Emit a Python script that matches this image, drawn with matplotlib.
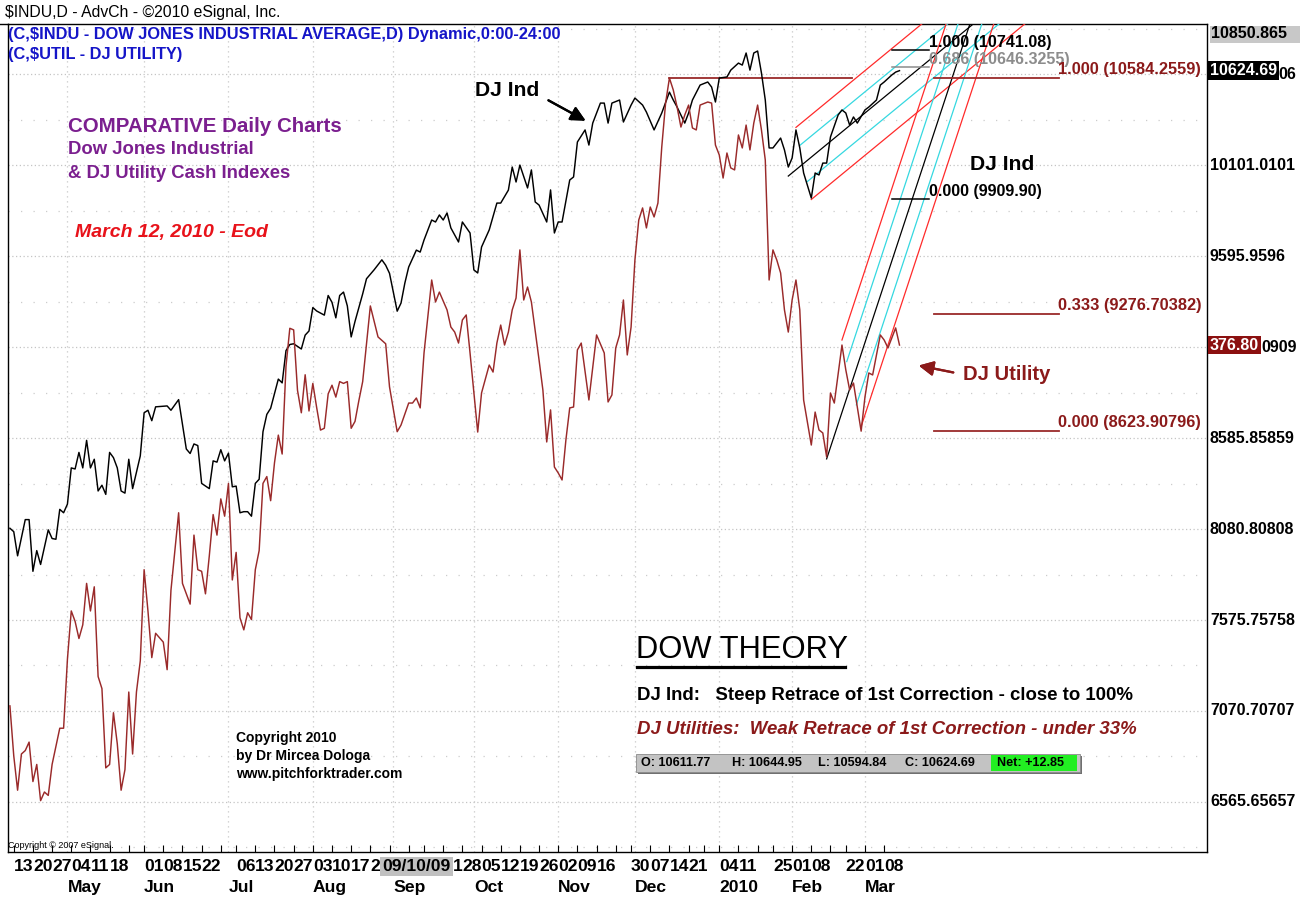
import matplotlib
matplotlib.use("Agg")
import matplotlib.pyplot as plt
from matplotlib import font_manager
from matplotlib.lines import Line2D
from matplotlib.patches import Rectangle
from matplotlib.transforms import blended_transform_factory

W, H = 1313, 897

# x = trading day counted from Apr 9 2009 (day 0) to Mar 12 2010 (day 232)
dji_day = [0, 1, 2, 4, 5, 6, 7, 8, 10, 11, 12, 13, 14, 15, 16, 17, 18, 19, 20, 21,
           22, 23, 24, 25, 26, 27, 28, 29, 30, 31, 32, 34, 35, 36, 37, 38, 41, 42, 44, 46,
           47, 48, 49, 50, 52, 53, 54, 55, 56, 57, 58, 59, 60, 61, 62, 63, 64, 65, 66, 67,
           68, 69, 70, 71, 72, 73, 74, 76, 77, 78, 79, 80, 82, 83, 84, 85, 86, 87, 88, 89,
           90, 91, 92, 93, 95, 97, 98, 99, 101, 102, 103, 104, 106, 107, 108, 110, 111, 112, 113, 114,
           115, 117, 118, 120, 121, 122, 123, 125, 127, 128, 130, 131, 132, 133, 135, 136, 137, 138, 140, 141,
           142, 143, 144, 146, 147, 148, 150, 151, 152, 154, 155, 156, 157, 159, 160, 162, 163, 165, 166, 168,
           170, 172, 173, 174, 176, 177, 178, 180, 182, 183, 184, 185, 187, 188, 190, 191, 192, 193, 194, 195,
           196, 197, 198, 199, 201, 202, 203, 204, 205, 206, 207, 209, 210, 211, 212, 213, 214, 216, 217, 218,
           219, 220, 221, 223, 224, 226, 227, 228, 230, 231, 232]
dji_close = [8085, 8066, 7932, 8133, 8133, 7846, 7961, 7884, 8076, 8028, 8024, 8190, 8171, 8219, 8420, 8414, 8506, 8420, 8573, 8420,
             8468, 8292, 8324, 8273, 8506, 8477, 8420, 8292, 8280, 8468, 8305, 8487, 8726, 8740, 8682, 8759, 8764, 8740, 8799, 8525,
             8500, 8553, 8544, 8334, 8305, 8459, 8452, 8521, 8459, 8502, 8315, 8319, 8171, 8177, 8177, 8152, 8334, 8357, 8621, 8717,
             8751, 8831, 8913, 8892, 9071, 9105, 9109, 9080, 9157, 9180, 9310, 9291, 9268, 9377, 9339, 9253, 9377, 9396, 9319, 9147,
             9233, 9310, 9386, 9470, 9520, 9575, 9545, 9500, 9290, 9335, 9446, 9535, 9629, 9618, 9685, 9796, 9785, 9824, 9796, 9835,
             9752, 9674, 9785, 9724, 9519, 9502, 9646, 9741, 9890, 9890, 9962, 10090, 10007, 10101, 9974, 10074, 9896, 9879, 9785, 9963,
             9724, 9785, 9785, 10018, 10035, 10229, 10296, 10212, 10334, 10445, 10445, 10334, 10445, 10462, 10340, 10434, 10473, 10434, 10395, 10296,
             10390, 10506, 10462, 10423, 10334, 10390, 10462, 10545, 10562, 10534, 10451, 10584, 10590, 10628, 10667, 10656, 10723, 10628, 10723, 10734,
             10612, 10462, 10196, 10196, 10251, 10185, 10090, 10140, 10296, 10196, 10057, 9918, 10057, 10046, 10112, 10112, 10257, 10379, 10407, 10390,
             10323, 10368, 10334, 10407, 10423, 10462, 10545, 10562, 10601, 10617, 10625]

# DJ Utility, drawn on the DJIA-equivalent overlay scale
util_day = [0, 1, 2, 3, 4, 5, 6, 7, 8, 9, 10, 11, 13, 14, 15, 16, 17, 18, 19, 20,
            21, 22, 23, 24, 25, 26, 27, 28, 29, 30, 31, 32, 33, 34, 35, 36, 37, 38, 40, 41,
            42, 44, 45, 47, 48, 49, 50, 51, 52, 53, 54, 55, 56, 57, 58, 59, 60, 61, 62, 63,
            64, 65, 66, 67, 68, 69, 70, 71, 72, 73, 74, 75, 76, 77, 78, 79, 80, 81, 82, 83,
            84, 85, 86, 87, 88, 89, 90, 91, 92, 94, 95, 96, 98, 99, 101, 102, 104, 105, 106, 107,
            108, 110, 111, 112, 114, 115, 116, 117, 118, 119, 120, 122, 123, 125, 126, 127, 128, 129, 130, 131,
            132, 133, 134, 135, 136, 138, 139, 140, 141, 142, 143, 144, 145, 146, 147, 148, 149, 151, 153, 155,
            156, 157, 158, 159, 160, 161, 162, 163, 164, 165, 166, 167, 168, 169, 170, 171, 172, 173, 174, 175,
            176, 177, 178, 179, 180, 182, 183, 184, 185, 186, 187, 188, 189, 190, 191, 192, 193, 194, 195, 196,
            197, 198, 199, 200, 201, 202, 203, 204, 205, 206, 207, 209, 210, 211, 212, 213, 214, 215, 217, 218,
            219, 220, 222, 223, 224, 225, 227, 228, 229, 230, 231, 232]
util_close = [7099, 6822, 6631, 6832, 6851, 6898, 6679, 6774, 6573, 6621, 6602, 6774, 6975, 6975, 7358, 7626, 7568, 7473, 7549, 7779,
              7626, 7760, 7262, 7195, 6755, 6774, 7061, 6889, 6631, 6745, 7176, 6832, 7176, 7349, 7855, 7626, 7367, 7502, 7453, 7300,
              7741, 8171, 7779, 7664, 8047, 7855, 7846, 7721, 7932, 8161, 8047, 8248, 8152, 8334, 7798, 7951, 7588, 7521, 7616, 7578,
              7855, 7961, 8334, 8372, 8238, 8448, 8602, 8497, 8985, 9195, 9186, 8851, 8726, 8937, 8736, 8889, 8755, 8630, 8640, 8831,
              8879, 8813, 8899, 8889, 8899, 8640, 8678, 8793, 8899, 9319, 9233, 9147, 9109, 8870, 8621, 8658, 8780, 8780, 8808, 8753,
              9058, 9463, 9341, 9396, 9297, 9202, 9174, 9113, 9241, 9269, 9058, 8619, 8836, 8991, 8952, 9113, 9213, 9102, 9174, 9297,
              9363, 9630, 9352, 9424, 9341, 9019, 8852, 8564, 8742, 8425, 8392, 8353, 8575, 8753, 8758, 9075, 9113, 8797, 9158, 9058,
              8786, 8825, 9086, 9158, 9352, 9047, 9202, 9574, 9796, 9863, 9752, 9868, 9813, 9890, 10201, 10445, 10584, 10518, 10423, 10312,
              10379, 10434, 10307, 10296, 10434, 10451, 10445, 10212, 10157, 10029, 10168, 10085, 10074, 10268, 10196, 10323, 10185, 10334, 10434, 10296,
              10129, 9463, 9630, 9574, 9502, 9297, 9174, 9352, 9463, 9297, 8797, 8547, 8730, 8631, 8614, 8481, 8836, 8780, 9102, 8964,
              8853, 8891, 8624, 8814, 8947, 8936, 9158, 9130, 9086, 9141, 9197, 9102]

# pitchfork pivots (day, value): handle, upper pivot, lower pivot
dj_fork = [(203, 10040), (205, 10310), (209, 9910)]
util_fork = [(213, 8470), (217, 9130), (222, 8650)]

dj_fib_levels = [10741.08, 10646.3255, 9909.90]
dj_fib_labels = ["1.000 (10741.08)", "0.686 (10646.3255)", "0.000 (9909.90)"]
dj_fib_colors = ["black", "#8c8c8c", "black"]
util_fib_levels = [10584.2559, 9276.70382, 8623.90796]
util_fib_labels = ["1.000 (10584.2559)", "0.333 (9276.70382)", "0.000 (8623.90796)"]

price_levels = [10606.0606, 10101.0101, 9595.9596, 9090.90909, 8585.85859,
                8080.80808, 7575.75758, 7070.70707, 6565.65657]
# visible part of each scale label (two are partly covered by the last-price boxes)
price_labels = ["06", "10101.0101", "9595.9596", "0909", "8585.85859",
                "8080.80808", "7575.75758", "7070.70707", "6565.65657"]
price_label_cut = [True, False, False, True, False, False, False, False, False]

# weekly labels (those hidden under the cursor date box are left out)
week_days = [1, 6, 11, 16, 21, 26, 35, 40, 45, 50, 59, 64, 69, 74, 79, 84, 89,
             118, 123, 128, 133, 138, 143, 148, 153, 162, 167, 172, 177,
             185, 190, 199, 204, 209, 218, 223, 228]
week_labels = ["13", "20", "27", "04", "11", "18", "01", "08", "15", "22", "06", "13", "20", "27",
               "03", "10", "17", "28", "05", "12", "19", "26",
               "02", "09", "16", "30", "07", "14", "21", "04", "11", "25", "01", "08", "22", "01", "08"]
tick_days = [1, 6, 11, 16, 21, 26, 31, 35, 40, 45, 50, 55, 59, 64, 69, 74, 79, 84, 89, 94,
             99, 104, 108, 113, 118, 123, 128, 133, 138, 143, 148, 153, 158, 162, 167, 172, 177,
             181, 185, 190, 195, 199, 204, 209, 214, 218, 223, 228]
month_days = [15, 35, 57, 79, 100, 121, 143, 163, 185, 204, 223]
month_labels = ["May", "Jun", "Jul", "Aug", "Sep", "Oct", "Nov", "Dec", "2010", "Feb", "Mar"]
cursor_day, cursor_label = 106, "09/10/09"

last_dji = 10624.69
last_util = 9102
ohlc = ["O: 10611.77", "H: 10644.95", "L: 10594.84", "C: 10624.69"]
net = "Net: +12.85"

installed = {f.name for f in font_manager.fontManager.ttflist}
SANS = "Liberation Sans" if "Liberation Sans" in installed else "DejaVu Sans"
if "Liberation Sans Narrow" in installed:
    NARROW, NS = "Liberation Sans Narrow", 1.0
else:
    NARROW, NS = SANS, 0.84

MAROON = "#8b1a1a"
fig = plt.figure(figsize=(W / 100, H / 100), dpi=100)
ax = fig.add_axes([8 / W, 1 - 852 / H, 1199 / W, 828 / H])
ax.set_xlim(-0.5, 312.2)
ax.set_ylim(6288, 10884)
ax.set_yticks([])
ax.set_xticks(tick_days)
ax.set_xticklabels([])
ax.tick_params(axis="x", direction="in", length=5, width=0.8)
for s in ax.spines.values():
    s.set_linewidth(1.0)


def ftext(x, y, s, size, family=SANS, **kw):
    kw.setdefault("va", "center")
    return fig.text(x / W, 1 - y / H, s, fontsize=size, family=family, parse_math=False, **kw)


# grid
for lv in price_levels:
    ax.axhline(lv, color="#c4c4c4", lw=0.9, ls=(0, (1, 2)), zorder=0)
for lv in price_levels + [price_levels[0] + 505.05]:
    ax.axhline(lv - 252.525, color="#cccccc", lw=0.9, ls=(0, (1, 9)), zorder=0)
for d in month_days:
    ax.axvline(d, color="#c8c8c8", lw=0.9, ls=(0, (1, 3)), zorder=0)

# price series
ax.plot(dji_day, dji_close, color="black", lw=1.05, zorder=4)
ax.plot(util_day, util_close, color="#9a2a2a", lw=1.05, zorder=4)


def draw_fork(p0, p1, p2, end=330):
    md, mv = (p1[0] + p2[0]) / 2, (p1[1] + p2[1]) / 2
    k = (mv - p0[1]) / (md - p0[0])

    def line(d0, v0, color):
        ax.plot([d0, end], [v0, v0 + k * (end - d0)], color=color, lw=0.9, zorder=3)

    line(p0[0], p0[1], "black")
    for pd, pv in (p1, p2):
        line(pd, pv, "#ff2a2a")
        d0 = (pd + md) / 2
        med = p0[1] + k * (d0 - p0[0])
        tine = pv + k * (d0 - pd)
        line(d0, (med + tine) / 2, "#35d8e0")


draw_fork(*dj_fork)
draw_fork(*util_fork)

# retracement levels
ax.plot([172, 219.5], [util_fib_levels[0]] * 2, color="#9a2a2a", lw=1.3, zorder=3)
for lv, lab, c in zip(dj_fib_levels, dj_fib_labels, dj_fib_colors):
    ax.plot([230, 239.6], [lv, lv], color=c, lw=1.1, zorder=3)
    ax.annotate(lab, (239.6, lv), xytext=(0, 3), textcoords="offset pixels", ha="left",
                va="baseline", fontsize=13.8 * NS, family=NARROW, weight="bold", color=c, zorder=6)
for lv, lab in zip(util_fib_levels, util_fib_labels):
    ax.plot([241, 273.5], [lv, lv], color="#9a2a2a", lw=1.3, zorder=3)
    ax.annotate(lab, (273.3, lv), xytext=(0, 4), textcoords="offset pixels", ha="left",
                va="baseline", fontsize=14 * NS, family=NARROW, weight="bold", color=MAROON, zorder=6)

# right price scale
ry = blended_transform_factory(ax.transAxes, ax.transData)
for lv, lab, cut in zip(price_levels, price_labels, price_label_cut):
    ax.text(1.0746 if cut else 1.0025, lv, lab, transform=ry, ha="right" if cut else "left",
            va="center", fontsize=11.5, family=SANS, weight="bold", clip_on=False)
fig.patches.append(Rectangle((1210 / W, 1 - 43 / H), 90 / W, 17 / H, transform=fig.transFigure,
                             facecolor="#c8c8c8", edgecolor="none"))
ftext(1211, 34, "10850.865", 11.5, weight="bold")
ax.text(1.0025, last_dji, f"{last_dji:.2f}", transform=ry, ha="left", va="center", fontsize=11.5,
        family=SANS, weight="bold", color="white", clip_on=False,
        bbox=dict(boxstyle="square,pad=0.12", facecolor="black", edgecolor="none"))
ax.text(1.0025, last_util, "376.80", transform=ry, ha="left", va="center", fontsize=11.5,
        family=SANS, weight="bold", color="white", clip_on=False,
        bbox=dict(boxstyle="square,pad=0.12", facecolor="#8b1010", edgecolor="none"))

# date scale
bx = blended_transform_factory(ax.transData, fig.transFigure)
lab_kw = dict(transform=bx, va="center", fontsize=15 * NS, family=NARROW, weight="bold", clip_on=False)
for d, s in zip(week_days, week_labels):
    ax.text(d, 1 - 866 / H, s, ha="left", **lab_kw)
for d, s in zip(month_days, month_labels):
    ax.text(d, 1 - 887 / H, s, ha="left", **lab_kw)
# partly hidden labels on both sides of the cursor box ("24" and "21")
ax.text(94, 1 - 866 / H, "2", ha="left", **lab_kw)
ax.text(118, 1 - 866 / H, "1", ha="right", **lab_kw)
ax.add_patch(Rectangle((cursor_day - 9.6, 1 - 876 / H), 19.2, 19 / H, transform=bx,
                       facecolor="#c0c0c0", edgecolor="none", clip_on=False, zorder=5))
ax.text(cursor_day, 1 - 866 / H, cursor_label, ha="center", zorder=6, **lab_kw)

# titles and notes
fig.add_artist(Line2D([0, 8 / W], [1 - 24 / H] * 2, color="black", lw=1.0))
ftext(5, 12, "$INDU,D - AdvCh - \u00a92010 eSignal, Inc.", 13.5 * NS, family=NARROW)
ftext(8, 35, "(C,$INDU - DOW JONES INDUSTRIAL AVERAGE,D) Dynamic,0:00-24:00", 14 * NS,
      family=NARROW, weight="bold", color="#1515c8")
ftext(8, 55, "(C,$UTIL - DJ UTILITY)", 14 * NS, family=NARROW, weight="bold", color="#1515c8")
ftext(68, 127, "COMPARATIVE Daily Charts", 14.8, weight="bold", color="#7b1f8f")
ftext(68, 150, "Dow Jones Industrial", 13.3, weight="bold", color="#7b1f8f")
ftext(68, 174, "& DJ Utility Cash Indexes", 13.3, weight="bold", color="#7b1f8f")
ftext(75, 233, "March 12, 2010 - Eod", 14, weight="bold", style="italic", color="#e8121a")

ftext(475, 90, "DJ Ind", 15.2, weight="bold")
fig.add_artist(plt.annotate("", xy=(588 / W, 1 - 122 / H), xycoords="figure fraction",
                            xytext=(546 / W, 1 - 99 / H), textcoords="figure fraction",
                            arrowprops=dict(arrowstyle="-|>", color="black", lw=1.6, mutation_scale=22)))
ftext(970, 165, "DJ Ind", 15.2, weight="bold")
ftext(963, 375, "DJ Utility", 14.6, weight="bold", color=MAROON)
fig.add_artist(plt.annotate("", xy=(916 / W, 1 - 365 / H), xycoords="figure fraction",
                            xytext=(956 / W, 1 - 373 / H), textcoords="figure fraction",
                            arrowprops=dict(arrowstyle="-|>", color=MAROON, lw=1.6, mutation_scale=22)))

ftext(636, 650, "DOW THEORY", 26.5 * NS, family=NARROW)
fig.add_artist(Line2D([637 / W, 845 / W], [1 - 667 / H] * 2, color="black", lw=2.3))
ftext(637, 695, "DJ Ind:   Steep Retrace of 1st Correction - close to 100%", 16 * NS,
      family=NARROW, weight="bold")
ftext(637, 730, "DJ Utilities:  Weak Retrace of 1st Correction - under 33%", 16 * NS,
      family=NARROW, weight="bold", style="italic", color=MAROON)

fig.patches.append(Rectangle((638 / W, 1 - 774 / H), 444 / W, 18 / H, transform=fig.transFigure,
                             facecolor="#707070", edgecolor="none"))
fig.patches.append(Rectangle((636 / W, 1 - 772 / H), 444 / W, 18 / H, transform=fig.transFigure,
                             facecolor="#c3c3c3", edgecolor="#8a8a8a", lw=0.6))
fig.patches.append(Rectangle((991 / W, 1 - 771 / H), 86 / W, 16 / H, transform=fig.transFigure,
                             facecolor="#22ee22", edgecolor="none"))
for x, s in zip([641, 732, 818, 905], ohlc):
    ftext(x, 763, s, 10.8 * NS, family=NARROW, weight="bold")
ftext(997, 763, net, 10.8 * NS, family=NARROW, weight="bold")

ftext(236, 738, "Copyright 2010", 10, weight="bold")
ftext(236, 756, "by Dr Mircea Dologa", 10, weight="bold")
ftext(236, 774, "www.pitchforktrader.com", 10, weight="bold")
ftext(8, 845, "Copyright \u00a9 2007 eSignal.", 6.5, family=NARROW)

fig.savefig("out.png", dpi=100, facecolor="white")
